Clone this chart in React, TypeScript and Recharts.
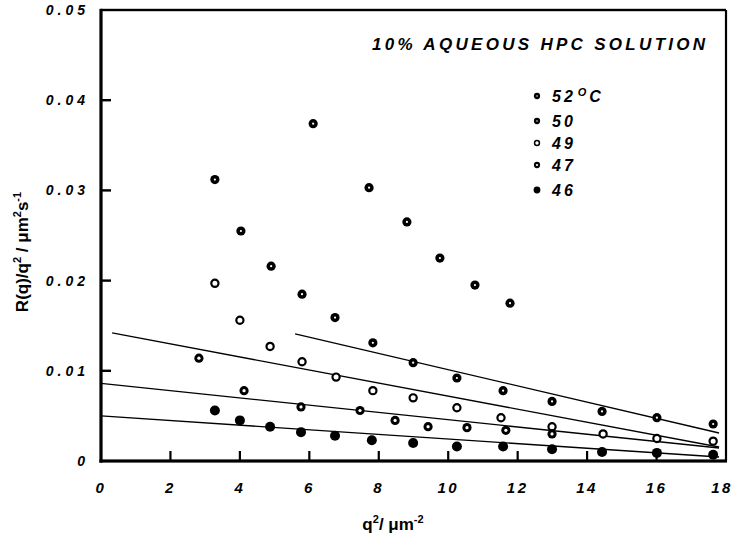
import React from 'react';
import {
	ScatterChart,
	Scatter,
	XAxis,
	YAxis,
	ReferenceLine,
	Customized,
} from 'recharts';

// q^2 (um^-2) and R(q)/q^2 (um^2 s^-1)
const q52 = [6.11, 7.72, 8.81, 9.76, 10.77, 11.78];
const r52 = [0.0374, 0.0303, 0.0265, 0.0225, 0.0195, 0.0175];

const q50 = [3.28, 4.03, 4.9, 5.79, 6.74, 7.83, 8.99, 10.25, 11.58, 12.99, 14.43, 16.01, 17.63];
const r50 = [0.0312, 0.0255, 0.0216, 0.0185, 0.0159, 0.0131, 0.0109, 0.0092, 0.0078, 0.0066, 0.0055, 0.0048, 0.0041];

const q49 = [3.28, 4.0, 4.87, 5.79, 6.77, 7.83, 8.99, 10.25, 11.52, 12.99, 14.46, 16.01, 17.63];
const r49 = [0.0197, 0.0156, 0.0127, 0.011, 0.0093, 0.0078, 0.007, 0.0059, 0.0048, 0.0038, 0.003, 0.0025, 0.0022];

const q47 = [2.82, 4.12, 5.76, 7.46, 8.47, 9.42, 10.54, 11.66, 12.99];
const r47 = [0.0114, 0.0078, 0.006, 0.0056, 0.0045, 0.0038, 0.0037, 0.0034, 0.003];

const q46 = [3.28, 4.0, 4.87, 5.76, 6.74, 7.8, 8.99, 10.25, 11.58, 12.99, 14.43, 16.01, 17.63];
const r46 = [0.0056, 0.0045, 0.0038, 0.0032, 0.0028, 0.0023, 0.002, 0.0016, 0.0016, 0.0013, 0.001, 0.0009, 0.0007];

// straight-line fits drawn through the high-q data
const fitStartQ = [5.59, 0.32, 0, 0];
const fitStartR = [0.0141, 0.0142, 0.0086, 0.005];
const fitEndQ = [17.8, 17.8, 17.8, 17.8];
const fitEndR = [0.0031, 0.00155, 0.00144, 0.00044];

const legendLabels = ['52', '50', '49', '47', '46'];
const xTicks = [0, 2, 4, 6, 8, 10, 12, 14, 16, 18];
const yTicks = [0, 0.01, 0.02, 0.03, 0.04, 0.05];

const X_MAX = 18;
const Y_MAX = 0.05;

// chart layout
const W = 735;
const H = 542;
const MARGIN = { top: 10, right: 9, bottom: 0, left: 0 };
const Y_AXIS_W = 101;
const X_AXIS_H = 81;
const PLOT_L = MARGIN.left + Y_AXIS_W;
const PLOT_T = MARGIN.top;
const PLOT_W = W - PLOT_L - MARGIN.right;
const PLOT_H = H - PLOT_T - MARGIN.bottom - X_AXIS_H;

const FONT = '"Liberation Sans", Arial, sans-serif';

const zip = (qs: number[], rs: number[]) => qs.map((q, i) => ({ q, r: rs[i] }));

const series = [
	{ name: '52', data: zip(q52, r52), kind: 'hole' },
	{ name: '50', data: zip(q50, r50), kind: 'hole' },
	{ name: '49', data: zip(q49, r49), kind: 'open' },
	{ name: '47', data: zip(q47, r47), kind: 'ring' },
	{ name: '46', data: zip(q46, r46), kind: 'solid' },
];

function Marker({ cx, cy, kind, small }: { cx: number; cy: number; kind: string; small?: boolean }) {
	const k = small ? 0.68 : 1;
	if (kind === 'open') {
		return <circle cx={cx} cy={cy} r={3.6 * k} fill="#fff" stroke="#000" strokeWidth={2.2 * k} />;
	}
	if (kind === 'solid') {
		return <circle cx={cx} cy={cy} r={5 * k} fill="#000" />;
	}
	const hole = kind === 'ring' ? 1.6 : 1.1;
	return (
		<g>
			<circle cx={cx} cy={cy} r={4.6 * k} fill="#000" />
			<circle cx={cx} cy={cy} r={hole * k} fill="#fff" />
		</g>
	);
}

function XTick(props: any) {
	const { x, y, payload } = props;
	const v = payload.value;
	return (
		<text
			x={v === X_MAX ? x - 4 : x}
			y={y + 32}
			textAnchor="middle"
			fontFamily={FONT}
			fontSize={15}
			fontWeight="bold"
			fontStyle="italic"
			letterSpacing={2.5}
			fill="#000"
		>
			{v}
		</text>
	);
}

function YTick(props: any) {
	const { x, y, payload } = props;
	const v = payload.value;
	return (
		<text
			x={x - 12}
			y={y + 5}
			textAnchor="end"
			fontFamily={FONT}
			fontSize={14}
			fontWeight="bold"
			fontStyle="italic"
			letterSpacing={4}
			fill="#000"
		>
			{v === 0 ? '0' : v.toFixed(2)}
		</text>
	);
}

// box round the plot with inward tick marks
function Frame() {
	const sx = (v: number) => PLOT_L + (v / X_MAX) * PLOT_W;
	const sy = (v: number) => PLOT_T + PLOT_H - (v / Y_MAX) * PLOT_H;
	const bottom = PLOT_T + PLOT_H;
	const right = PLOT_L + PLOT_W;
	return (
		<g fill="#000">
			<rect x={PLOT_L} y={PLOT_T - 1.2} width={PLOT_W} height={2.4} />
			<rect x={right - 1.1} y={PLOT_T} width={2.2} height={PLOT_H} />
			<rect x={PLOT_L - 1.6} y={PLOT_T - 1.2} width={3.2} height={PLOT_H + 2.8} />
			<rect x={PLOT_L - 1.6} y={bottom - 1.6} width={PLOT_W + 2.6} height={3.2} />
			{xTicks
				.filter((v) => v > 0 && v < X_MAX)
				.map((v) => (
					<rect key={`x${v}`} x={sx(v) - 1.1} y={bottom - 10} width={2.2} height={10} />
				))}
			{yTicks
				.filter((v) => v > 0 && v < Y_MAX)
				.map((v) => (
					<rect key={`y${v}`} x={PLOT_L} y={sy(v) - 1.2} width={10} height={2.4} />
				))}
		</g>
	);
}

function Annotations() {
	const rowY = [96, 121, 143, 165, 190];
	return (
		<g fill="#000" fontFamily={FONT}>
			<Frame />
			<text x={372} y={50} fontSize={17} fontWeight="bold" fontStyle="italic" letterSpacing={3.3}>
				10% AQUEOUS HPC  SOLUTION
			</text>
			{legendLabels.map((t, i) => (
				<g key={t}>
					<Marker cx={537} cy={rowY[i]} kind={series[i].kind} small />
					<text x={552} y={rowY[i] + 6} fontSize={16} fontWeight="bold" fontStyle="italic" letterSpacing={3}>
						{t}
						{i === 0 && (
							<>
								<tspan fontSize={11} dy={-6} dx={2}>
									O
								</tspan>
								<tspan dy={6}>C</tspan>
							</>
						)}
					</text>
				</g>
			))}
			<text
				transform="translate(28, 252) rotate(-90)"
				textAnchor="middle"
				fontSize={17}
				fontWeight="bold"
			>
				R(q)/q<tspan fontSize={11} dy={-7}>2</tspan>
				<tspan dy={7}> / μm</tspan>
				<tspan fontSize={11} dy={-7}>2</tspan>
				<tspan dy={7}>s</tspan>
				<tspan fontSize={11} dy={-7}>-1</tspan>
			</text>
			<text x={393} y={530} textAnchor="middle" fontSize={17} fontWeight="bold">
				q<tspan fontSize={11} dy={-7}>2</tspan>
				<tspan dy={7}>/ μm</tspan>
				<tspan fontSize={11} dy={-7}>-2</tspan>
			</text>
		</g>
	);
}

export default function App() {
	return (
		<div style={{ position: 'absolute', left: 0, top: 0, background: '#fff' }}>
			<ScatterChart width={W} height={H} margin={MARGIN}>
				<XAxis
					type="number"
					dataKey="q"
					domain={[0, X_MAX]}
					ticks={xTicks}
					interval={0}
					height={X_AXIS_H}
					tickSize={0}
					tickMargin={0}
					tickLine={false}
					axisLine={false}
					tick={<XTick />}
					allowDataOverflow
				/>
				<YAxis
					type="number"
					dataKey="r"
					domain={[0, Y_MAX]}
					ticks={yTicks}
					interval={0}
					width={Y_AXIS_W}
					tickSize={0}
					tickMargin={0}
					tickLine={false}
					axisLine={false}
					tick={<YTick />}
					allowDataOverflow
				/>
				{fitStartQ.map((q, i) => (
					<ReferenceLine
						key={`fit-${i}`}
						segment={[
							{ x: q, y: fitStartR[i] },
							{ x: fitEndQ[i], y: fitEndR[i] },
						]}
						stroke="#000"
						strokeWidth={1.4}
						ifOverflow="visible"
					/>
				))}
				{series.map((s) => (
					<Scatter
						key={s.name}
						name={s.name}
						data={s.data}
						isAnimationActive={false}
						shape={(p: any) => <Marker cx={p.cx} cy={p.cy} kind={s.kind} />}
					/>
				))}
				<Customized component={<Annotations />} />
			</ScatterChart>
		</div>
	);
}
